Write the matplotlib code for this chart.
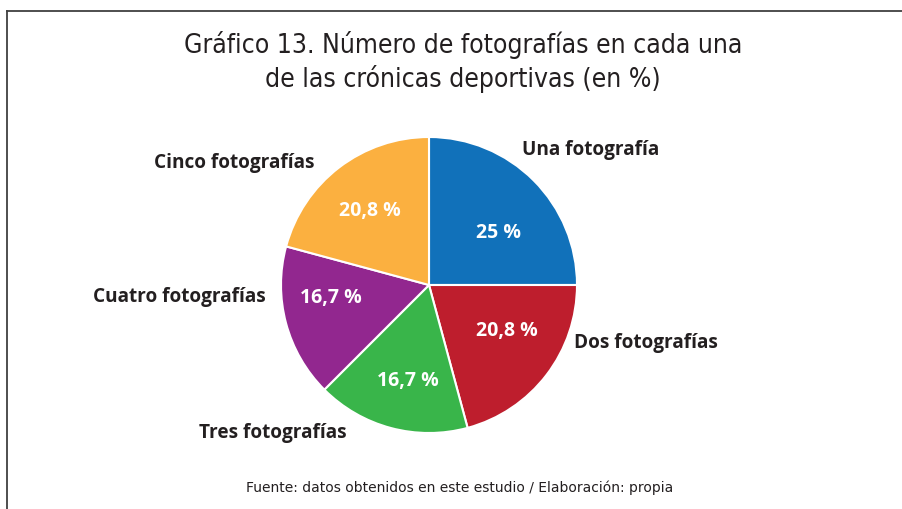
import matplotlib
matplotlib.use("Agg")
import matplotlib.pyplot as plt
from matplotlib.lines import Line2D

categories = ["Una fotografía", "Dos fotografías", "Tres fotografías",
              "Cuatro fotografías", "Cinco fotografías"]
values = [25, 20.8, 16.7, 16.7, 20.8]
value_labels = ["25 %", "20,8 %", "16,7 %", "16,7 %", "20,8 %"]
colors = ["#1171BA", "#BE1E2D", "#39B54A", "#92278F", "#FBB040"]
title = "Gráfico 13. Número de fotografías en cada una\nde las crónicas deportivas (en %)"
source = "Fuente: datos obtenidos en este estudio / Elaboración: propia"

W, H = 902, 510
fig = plt.figure(figsize=(W / 100, H / 100), dpi=100)
fig.patch.set_facecolor("white")

cx, cy, r = 429, 286, 148  # pixel centre and radius
half = 150
ax = fig.add_axes([(cx - half) / W, (H - cy - half) / H, 2 * half / W, 2 * half / H])
wedges, _ = ax.pie(values, colors=colors, startangle=90, counterclock=False,
                   radius=1.0, wedgeprops=dict(edgecolor="white", linewidth=1.5))
lim = half / r
ax.set_xlim(-lim, lim)
ax.set_ylim(-lim, lim)
ax.set_aspect("equal")
ax.axis("off")

def px2d(px, py):
    return (px - cx) / r, (cy - py) / r

inner_pos = [(499, 233), (507, 331), (408, 381), (331, 298), (370, 211)]
outer_pos = [(522, 150, "left"), (574, 343, "left"), (347, 433, "right"),
             (266, 297, "right"), (314, 163, "right")]

bold_font = ["Open Sans", "DejaVu Sans"]
for lab, (px, py) in zip(value_labels, inner_pos):
    x, y = px2d(px, py)
    ax.text(x, y, lab, ha="center", va="center", color="white",
            fontsize=14, fontweight="bold", family=bold_font)
for cat, (px, py, ha) in zip(categories, outer_pos):
    x, y = px2d(px, py)
    ax.text(x, y, cat, ha=ha, va="center", color="#231F20",
            fontsize=13.7, fontweight="bold", family=bold_font, clip_on=False)

fig.text(463 / W, 1 - 62 / H, title, ha="center", va="center", fontsize=19,
         color="#231F20", family="DejaVu Sans", fontstretch="condensed",
         linespacing=1.3)
fig.text(460 / W, 1 - 488 / H, source, ha="center", va="center", fontsize=10,
         color="#231F20", family="DejaVu Sans")

fig.add_artist(Line2D([6.5 / W, 6.5 / W], [0, 1 - 11.5 / H], color="#404040", lw=1.3,
                      transform=fig.transFigure))
fig.add_artist(Line2D([6.5 / W, 1], [1 - 11.5 / H, 1 - 11.5 / H], color="#404040", lw=1.3,
                      transform=fig.transFigure))

fig.savefig("out.png", dpi=100, facecolor="white")
